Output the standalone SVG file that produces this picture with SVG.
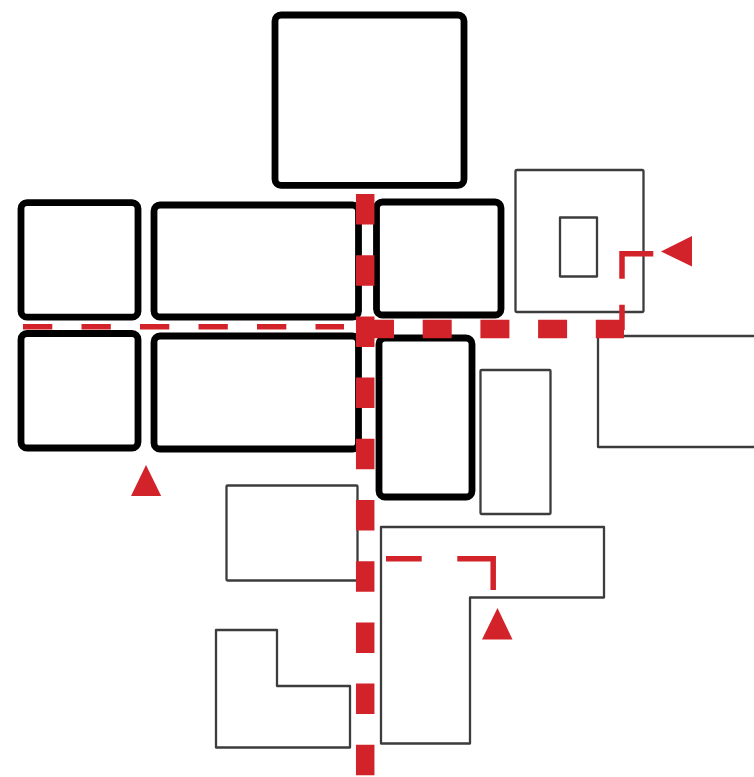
<svg xmlns="http://www.w3.org/2000/svg" width="754" height="777" viewBox="0 0 754 777">
<style>
.room{fill:none;stroke:#000;stroke-width:6.800;stroke-linejoin:round}
.wall{fill:none;stroke:#3c3c3c;stroke-width:2.300;stroke-linejoin:round}
.cut{fill:none;stroke:#d2232a}
.arrow{fill:#d2232a}
</style>
<rect width="754" height="777" fill="#fff"/>
<g id="room-top"><rect class="room" x="275" y="15" width="189" height="170.300" rx="6"/></g>
<g id="room-left-upper"><rect class="room" x="21" y="202.700" width="117" height="114.500" rx="6"/></g>
<g id="room-left-lower"><rect class="room" x="21" y="333.500" width="117" height="114.500" rx="6"/></g>
<g id="room-mid-upper"><rect class="room" x="154" y="205" width="204.500" height="112" rx="6"/></g>
<g id="room-mid-lower"><rect class="room" x="154" y="336" width="204.500" height="113" rx="6"/></g>
<g id="room-right-upper"><rect class="room" x="376.500" y="202" width="124.500" height="113" rx="6"/></g>
<g id="room-right-lower"><rect class="room" x="379" y="338" width="93" height="159" rx="6"/></g>
<g id="block-square"><rect class="wall" x="515.500" y="170" width="128" height="142" rx="1.500"/></g>
<g id="block-square-inner"><rect class="wall" x="560" y="217.500" width="37" height="59"/></g>
<g id="block-east"><path class="wall" d="M754 336H598V447H754"/></g>
<g id="block-narrow"><rect class="wall" x="480.500" y="370" width="70" height="144" rx="1"/></g>
<g id="block-south-west"><rect class="wall" x="226.500" y="485.500" width="131" height="95" rx="1"/></g>
<g id="block-l-small"><path class="wall" d="M216 630H277V686H350V747.500H216Z"/></g>
<g id="block-l-large"><path class="wall" d="M381 527H604V597.500H470V743.500H381Z"/></g>
<g id="connectors">
<path class="cut" stroke-width="18.500" stroke-dasharray="30.500 30.700" d="M365.200 194V777"/>
<path class="cut" stroke-width="18.500" stroke-dasharray="29 28.700" d="M365 329H624"/>
<path class="cut" stroke-width="5.500" stroke-dasharray="29.300 29.200" d="M23 326.700H344"/>
<path class="cut" stroke-width="5.500" d="M622 330V304.700M622 278.700V253.700H653.300"/>
<path class="cut" stroke-width="5.500" d="M386 558.700H421.700M457.300 558.700H493.200V590"/>
</g>
<g id="markers">
<polygon class="arrow" points="146,465 161.200,496 131,496"/>
<polygon class="arrow" points="661,251.500 692,236 692,266.500"/>
<polygon class="arrow" points="497.500,608 512.500,639.500 482,639.500"/>
</g>
</svg>
